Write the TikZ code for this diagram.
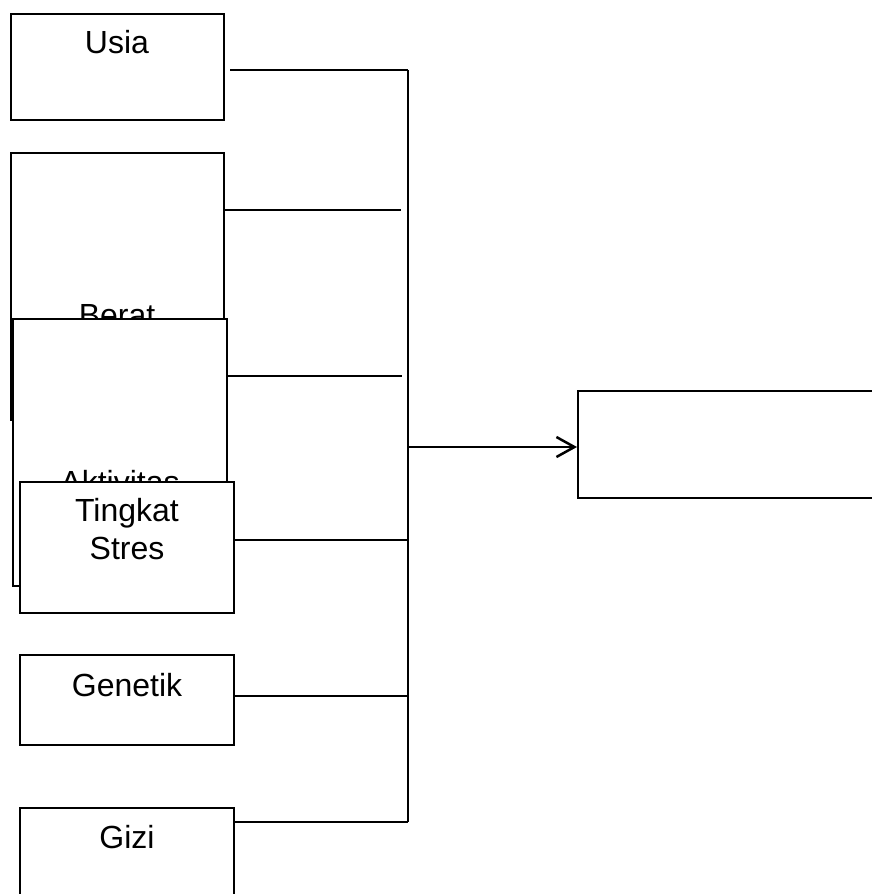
\documentclass[tikz,border=0pt]{standalone}
\usepackage{fontspec}
\setmainfont{Liberation Sans}
\usetikzlibrary{arrows.meta}
\begin{document}
\begin{tikzpicture}[x=1pt,y=-1pt,
  factor/.style={draw, fill=white, line width=2pt, inner sep=0pt, rectangle},
  label text/.style={inner sep=0pt, anchor=base, font=\fontsize{32}{38}\selectfont},
  wire/.style={line width=2pt},
]
\clip (0,0) rectangle (872,894);
\fill[white] (0,0) rectangle (872,894);

% factor boxes, each drawn over the previous one
\node[factor, minimum width=213pt, minimum height=106pt] (usia) at (117.5,67) {};
\node[label text] (usiaT) at (117,53) {Usia};

\node[factor, minimum width=213pt, minimum height=267pt] (berat) at (117.5,286.5) {};
\node[label text] (beratT) at (117,326) {Berat};

\node[factor, minimum width=214pt, minimum height=267pt] (aktiv) at (120,452.5) {};
\node[label text] (aktivT) at (120,493) {Aktivitas};

\node[factor, minimum width=214pt, minimum height=131pt] (stres) at (127,547.5) {};
\node[label text, align=center, anchor=north] (stresT) at (127,498) {Tingkat\\Stres};

\node[factor, minimum width=214pt, minimum height=90pt] (genetik) at (127,700) {};
\node[label text] (genetikT) at (127,696) {Genetik};

\node[factor, minimum width=214pt, minimum height=100pt] (gizi) at (127,858) {};
\node[label text] (giziT) at (127,848) {Gizi};

% outcome box
\node[factor, minimum width=310pt, minimum height=107pt] (hasil) at (733,444) {};

% bus
\coordinate (busTop) at (408,70);
\coordinate (busBot) at (408,822);
\coordinate (busMid) at (408,447);
\coordinate (bEnd) at (401,210);
\coordinate (aEnd) at (402,376);
\coordinate (sEnd) at (408,540);
\coordinate (gEnd) at (408,696);

\draw[wire] (busTop) -- (busBot);
\draw[wire] (usia.east |- busTop) ++(5,0) -- (busTop);
\draw[wire] (berat.east |- bEnd) -- (bEnd);
\draw[wire] (aktiv.east |- aEnd) -- (aEnd);
\draw[wire] (stres.east |- sEnd) -- (sEnd);
\draw[wire] (genetik.east |- gEnd) -- (gEnd);
\draw[wire] (gizi.east |- busBot) -- (busBot);
\draw[wire, -{Straight Barb[length=18pt, width=20pt, line width=2.5pt]}] (busMid) -- (hasil.west |- busMid);
\end{tikzpicture}
\end{document}
